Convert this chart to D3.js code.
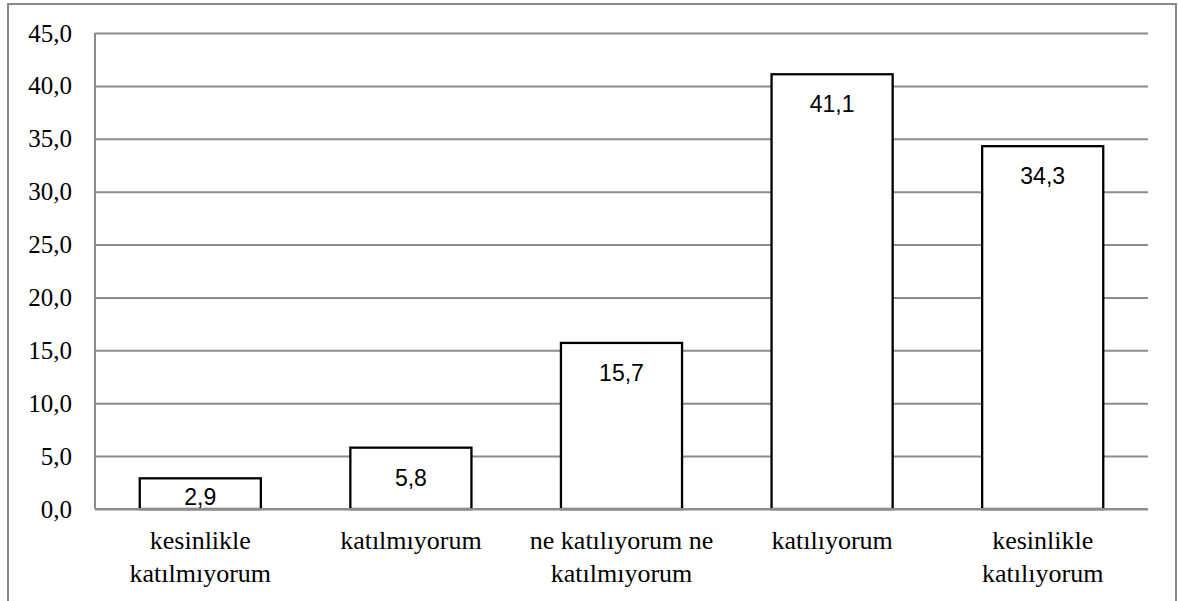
<!DOCTYPE html>
<html>
<head>
<meta charset="utf-8">
<script src="https://cdn.jsdelivr.net/npm/d3@7"></script>
<style>
  html, body { margin: 0; padding: 0; background: #fff; }
  svg { display: block; }
</style>
</head>
<body>
<svg id="chart" width="1178" height="601"></svg>
<script>
const categories = ["kesinlikle katılmıyorum", "katılmıyorum", "ne katılıyorum ne katılmıyorum", "katılıyorum", "kesinlikle katılıyorum"];
const categoryLines = [["kesinlikle", "katılmıyorum"], ["katılmıyorum"], ["ne katılıyorum ne", "katılmıyorum"], ["katılıyorum"], ["kesinlikle", "katılıyorum"]];
const values = [2.9, 5.8, 15.7, 41.1, 34.3];
const yTicks = [0, 5, 10, 15, 20, 25, 30, 35, 40, 45];

(function () {
const svg = d3.select("#chart");
const mL = 95, mR = 1148, mT = 33, mB = 509;
const serif = "'Liberation Serif', 'Times New Roman', serif";

const locale = d3.formatLocale({decimal: ",", thousands: ".", grouping: [3], currency: ["", ""]});
const fmt = locale.format(".1f");

// outer frame
svg.append("rect")
  .attr("x", 8).attr("y", 4).attr("width", 1168).attr("height", 620)
  .attr("fill", "#fff").attr("stroke", "#8a8a8a").attr("stroke-width", 2);

const x = d3.scaleBand().domain(categories).range([mL, mR]).paddingInner(0.425).paddingOuter(0.2125);
const y = d3.scaleLinear().domain([0, 45]).range([mB, mT]);

// gridlines + y axis labels
const yAxis = svg.append("g")
  .attr("transform", `translate(${mL},0)`)
  .call(d3.axisLeft(y).tickValues(yTicks).tickSize(-(mR - mL)).tickPadding(23).tickFormat(fmt));
yAxis.select(".domain").remove();
yAxis.selectAll(".tick line").attr("stroke", "#8c8c8c").attr("stroke-width", 2);
yAxis.selectAll(".tick text")
  .style("font-family", serif)
  .style("font-size", "25px").attr("fill", "#000");

// left axis line
svg.append("line")
  .attr("x1", mL).attr("x2", mL).attr("y1", mT).attr("y2", mB)
  .attr("stroke", "#8c8c8c").attr("stroke-width", 2);

// bars
svg.append("g").selectAll("rect")
  .data(values)
  .join("rect")
  .attr("x", (d, i) => x(categories[i]))
  .attr("y", d => y(d))
  .attr("width", x.bandwidth())
  .attr("height", d => y(0) - y(d))
  .attr("fill", "#fff")
  .attr("stroke", "#000")
  .attr("stroke-width", 2.3);

// x axis
const xAxis = svg.append("g")
  .attr("transform", `translate(0,${mB})`)
  .call(d3.axisBottom(x).tickSize(0).tickFormat(""));
xAxis.select(".domain").attr("stroke", "#8c8c8c").attr("stroke-width", 2)
  .attr("d", `M${mL},0H${mR}`);
xAxis.selectAll(".tick text").remove();
xAxis.selectAll(".tick").each(function(d, i) {
  const t = d3.select(this).append("text")
    .attr("text-anchor", "middle")
    .style("font-family", serif)
    .style("font-size", "26px").attr("fill", "#000");
  categoryLines[i].forEach((line, j) => {
    t.append("tspan").attr("x", 0).attr("y", 40 + j * 32.5).text(line);
  });
});

// data labels
svg.append("g").selectAll("text")
  .data(values)
  .join("text")
  .attr("x", (d, i) => x(categories[i]) + x.bandwidth() / 2)
  .attr("y", d => Math.min(y(d) + 38, y(0) - 4))
  .attr("text-anchor", "middle")
  .style("font-family", "'Liberation Sans', Arial, sans-serif")
  .style("font-size", "23px")
  .attr("fill", "#000")
  .text(d => fmt(d));
})();
</script>
</body>
</html>
